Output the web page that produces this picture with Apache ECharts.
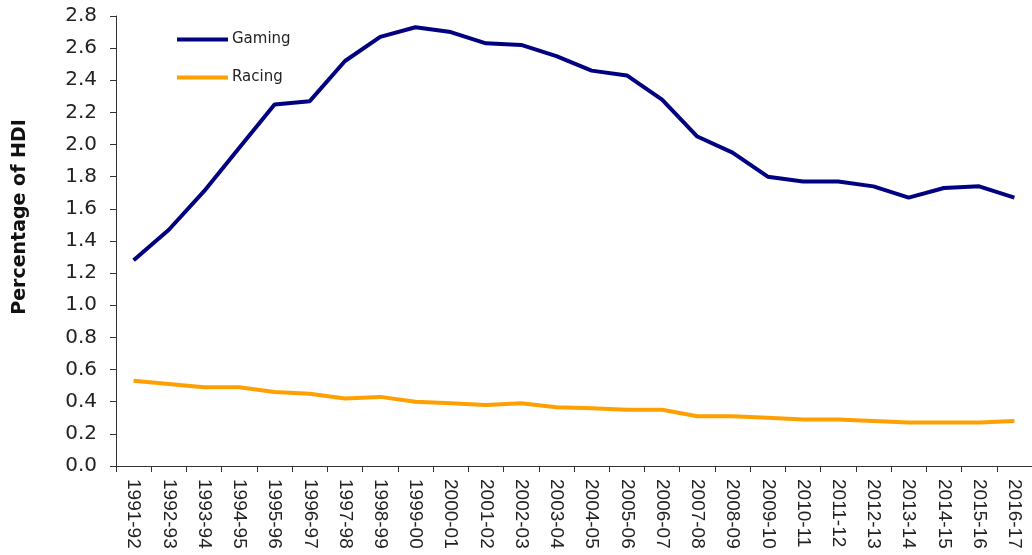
<!DOCTYPE html>
<html>
<head>
<meta charset="utf-8">
<script src="https://cdn.jsdelivr.net/npm/echarts@6/dist/echarts.min.js"></script>
<style>
html,body{margin:0;padding:0;background:#fff;}
#chart{width:1032px;height:555px;}
</style>
</head>
<body>
<div id="chart"></div>
<script>
const categories = ['1991-92','1992-93','1993-94','1994-95','1995-96','1996-97','1997-98','1998-99','1999-00','2000-01','2001-02','2002-03','2003-04','2004-05','2005-06','2006-07','2007-08','2008-09','2009-10','2010-11','2011-12','2012-13','2013-14','2014-15','2015-16','2016-17'];
const gaming = [1.28,1.47,1.71,1.98,2.25,2.27,2.52,2.67,2.73,2.70,2.63,2.62,2.55,2.46,2.43,2.28,2.05,1.95,1.80,1.77,1.77,1.74,1.67,1.73,1.74,1.67];
const racing = [0.53,0.51,0.49,0.49,0.46,0.45,0.42,0.43,0.40,0.39,0.38,0.39,0.365,0.36,0.35,0.35,0.31,0.31,0.30,0.29,0.29,0.28,0.27,0.27,0.27,0.28];
const yTicks = {min:0, max:2.8, interval:0.2};

const chart = echarts.init(document.getElementById('chart'));
chart.setOption({
  animation:false,
  backgroundColor:'#fff',
  grid:{left:116, top:16, width:923, height:450, containLabel:false},
  legend:{
    orient:'vertical', left:177, top:32, padding:0, itemWidth:51, itemHeight:4, itemGap:23,
    icon:'rect',
    textStyle:{fontFamily:'DejaVu Sans', fontSize:15, color:'#222', padding:[0,0,0,-1]},
    data:['Gaming','Racing']
  },
  xAxis:{
    type:'category', data:categories, boundaryGap:true,
    axisLine:{lineStyle:{color:'#333', width:1}},
    axisTick:{show:true, length:6, alignWithLabel:false, lineStyle:{color:'#333'}},
    axisLabel:{rotate:-90, interval:0, margin:13, fontFamily:'Liberation Sans', fontSize:19, color:'#222'}
  },
  yAxis:{
    type:'value', min:yTicks.min, max:yTicks.max, interval:yTicks.interval,
    name:'Percentage of HDI', nameLocation:'middle', nameGap:86, nameRotate:90,
    nameTextStyle:{fontFamily:'DejaVu Sans', fontWeight:'bold', fontSize:19, color:'#111', padding:[0,0,0,48]},
    splitLine:{show:false},
    axisLine:{show:true, lineStyle:{color:'#333', width:1}},
    axisTick:{show:true, length:6, lineStyle:{color:'#333'}},
    axisLabel:{margin:19, fontFamily:'DejaVu Sans', fontSize:20, color:'#222', formatter:v=>v.toFixed(1)}
  },
  series:[
    {name:'Gaming', type:'line', data:gaming, symbol:'none', color:'#000080', lineStyle:{width:4, color:'#000080'}},
    {name:'Racing', type:'line', data:racing, symbol:'none', color:'#FFA000', lineStyle:{width:4, color:'#FFA000'}}
  ]
});
</script>
</body>
</html>
